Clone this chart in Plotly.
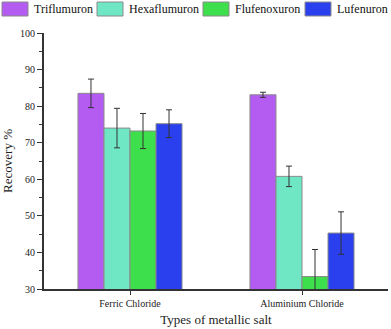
import plotly.graph_objects as go

# data
salts = ["Ferric Chloride", "Aluminium Chloride"]
series = ["Triflumuron", "Hexaflumuron", "Flufenoxuron", "Lufenuron"]
recovery = {
    "Triflumuron": [83.5, 83.1],
    "Hexaflumuron": [74.0, 60.8],
    "Flufenoxuron": [73.2, 33.4],
    "Lufenuron": [75.2, 45.3],
}
errors = {
    "Triflumuron": [3.9, 0.7],
    "Hexaflumuron": [5.4, 2.8],
    "Flufenoxuron": [4.8, 7.4],
    "Lufenuron": [3.8, 5.8],
}
colors = {
    "Triflumuron": "#b45cf2",
    "Hexaflumuron": "#6fe6c4",
    "Flufenoxuron": "#3edf4c",
    "Lufenuron": "#2a40ee",
}

W, H = 391, 329
L, R, T, B = 44, 3, 33, 40
FONT = "Liberation Serif, serif"


def px(x, y):
    """pixel position -> paper coordinates"""
    return (x - L) / (W - L - R), (H - B - y) / (H - T - B)


fig = go.Figure()
for name in series:
    fig.add_trace(go.Bar(
        x=salts, y=recovery[name], name=name,
        marker=dict(color=colors[name], line=dict(color="#8a8a8a", width=1)),
        error_y=dict(type="data", array=errors[name], color="#333333",
                     thickness=1, width=3),
    ))

# legend drawn by hand: wide boxes in one row like the original
legend_x = [2, 97, 203, 305]
for name, lx in zip(series, legend_x):
    x0, y0 = px(lx, 16)
    x1, y1 = px(lx + 26, 2)
    fig.add_shape(type="rect", xref="paper", yref="paper", x0=x0, y0=y0, x1=x1, y1=y1,
                  fillcolor=colors[name], line=dict(color="#8a8a8a", width=1))
    tx, ty = px(lx + 30, 9)
    fig.add_annotation(xref="paper", yref="paper", x=tx, y=ty, text=name,
                       showarrow=False, xanchor="left", yanchor="middle",
                       font=dict(size=12, family=FONT, color="#111111"))

fig.update_layout(
    width=W, height=H,
    margin=dict(l=L, r=R, t=T, b=B),
    barmode="group", bargap=0.395, bargroupgap=0,
    plot_bgcolor="white", paper_bgcolor="white",
    font=dict(family=FONT, size=11, color="#222222"),
    showlegend=False,
    xaxis=dict(
        range=[-0.5, 1.5], showline=True, linecolor="#333333", linewidth=1.5,
        ticks="outside", ticklen=4, tickcolor="#333333", showgrid=False,
        title=dict(text="Types of metallic salt", font=dict(size=13), standoff=7),
        tickfont=dict(size=10), automargin=False,
    ),
    yaxis=dict(
        range=[30, 100], dtick=10, showline=True, linecolor="#333333", linewidth=2,
        ticks="outside", ticklen=5, tickcolor="#333333", showgrid=False,
        minor=dict(dtick=5, ticks="outside", ticklen=3, tickcolor="#333333"),
        title=dict(text="Recovery %", font=dict(size=13), standoff=6),
        tickfont=dict(size=10), zeroline=False, automargin=False,
    ),
)

# the page body has a default 8px margin; drop it so the figure sits at 0,0
fig.write_html("out.html", config={"displayModeBar": False},
               post_script="document.body.style.margin='0';")
